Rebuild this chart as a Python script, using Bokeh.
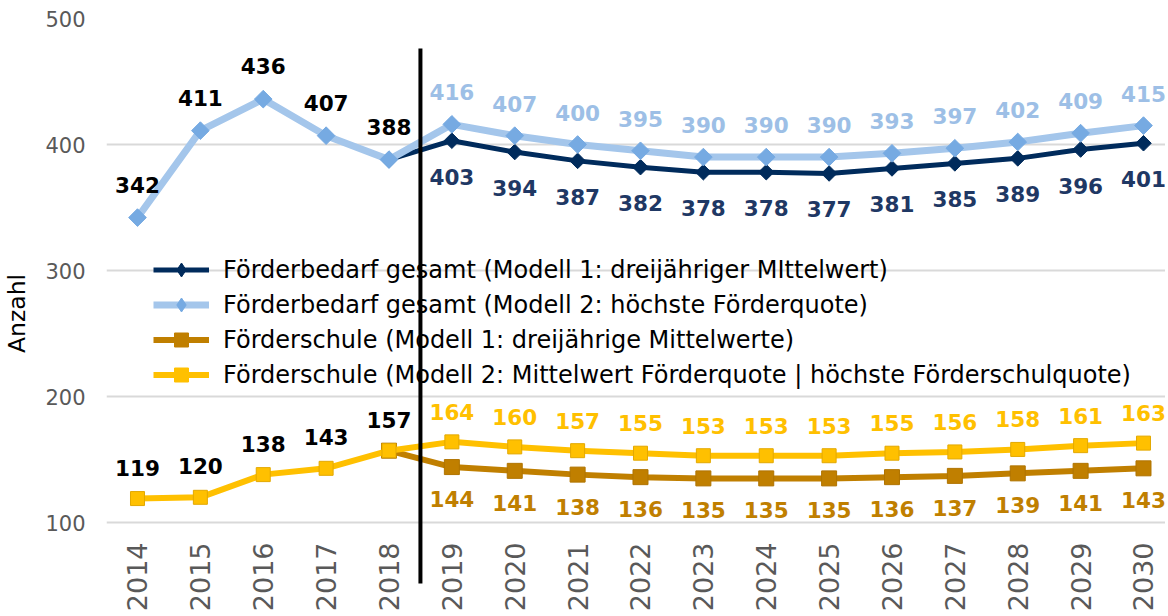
import math
from bokeh.plotting import figure
from bokeh.models import ColumnDataSource, Range1d, FixedTicker, Legend, LegendItem
from bokeh.core.properties import value
from bokeh.embed import file_html
from bokeh.resources import INLINE

# ---------------- data ----------------
years_all = [2014, 2015, 2016, 2017, 2018, 2019, 2020, 2021, 2022, 2023, 2024,
             2025, 2026, 2027, 2028, 2029, 2030]
years_hist = [2014, 2015, 2016, 2017, 2018]
years_m1 = [2018, 2019, 2020, 2021, 2022, 2023, 2024, 2025, 2026, 2027, 2028, 2029, 2030]
years_proj = [2019, 2020, 2021, 2022, 2023, 2024, 2025, 2026, 2027, 2028, 2029, 2030]

gesamt_hist = [342, 411, 436, 407, 388]
gesamt_m1 = [403, 394, 387, 382, 378, 378, 377, 381, 385, 389, 396, 401]
gesamt_m2 = [416, 407, 400, 395, 390, 390, 390, 393, 397, 402, 409, 415]

schule_hist = [119, 120, 138, 143, 157]
schule_m1 = [144, 141, 138, 136, 135, 135, 135, 136, 137, 139, 141, 143]
schule_m2 = [164, 160, 157, 155, 153, 153, 153, 155, 156, 158, 161, 163]

y_ticks = [100, 200, 300, 400, 500]
legend_labels = [
    "Förderbedarf gesamt (Modell 1: dreijähriger MIttelwert)",
    "Förderbedarf gesamt (Modell 2: höchste Förderquote)",
    "Förderschule (Modell 1: dreijährige Mittelwerte)",
    "Förderschule (Modell 2: Mittelwert Förderquote | höchste Förderschulquote)",
]
y_axis_title = "Anzahl"
split_year = 2018.5
divider_bottom = 51.6
divider_top = 476.2

# ---------------- styles ----------------
FONT = "DejaVu Sans"
NAVY = "#002b5c"
NAVY_TXT = "#1f3864"
LBLUE_LINE = "#a4c6eb"
LBLUE_MARK = "#76aae2"
LBLUE_TXT = "#9dbfe6"
BROWN = "#c07f00"
YELLOW = "#ffc000"
YELLOW_EDGE = "#e3a800"

p = figure(frame_width=1059, frame_height=590,
           x_range=Range1d(2013.507, 2030.35), y_range=Range1d(31.75, 500),
           output_backend="svg", toolbar_location=None,
           min_border_left=101, min_border_right=0, min_border_top=18, min_border_bottom=0)
p.outline_line_color = None
p.background_fill_color = "white"
p.border_fill_color = "white"

p.xgrid.visible = False
p.ygrid.grid_line_color = "#d9d9d9"
p.ygrid.grid_line_width = 2
p.yaxis.ticker = FixedTicker(ticks=y_ticks)
p.xaxis.ticker = FixedTicker(ticks=years_all)

for ax in (p.xaxis, p.yaxis):
    ax.axis_line_color = None
    ax.major_tick_line_color = None
    ax.minor_tick_line_color = None
    ax.major_tick_out = 0
    ax.major_tick_in = 0
    ax.major_label_text_font = FONT
    ax.major_label_text_color = "#595959"

p.yaxis.major_label_text_font_size = "21px"
p.yaxis.major_label_standoff = 21
p.yaxis.axis_label = y_axis_title
p.yaxis.axis_label_text_font = FONT
p.yaxis.axis_label_text_font_size = "23.5px"
p.yaxis.axis_label_text_font_style = "normal"
p.yaxis.axis_label_text_color = "black"
p.yaxis.axis_label_standoff = 11

p.xaxis.major_label_text_font_size = "27px"
p.xaxis.major_label_orientation = math.pi / 2
p.xaxis.major_label_standoff = -66

# ---------------- series ----------------
nav_x = years_m1
nav_y = [gesamt_hist[-1]] + gesamt_m1
lb_x = years_all
lb_y = gesamt_hist + gesamt_m2
br_x = years_m1
br_y = [schule_hist[-1]] + schule_m1
ye_x = years_all
ye_y = schule_hist + schule_m2

p.line(nav_x, nav_y, line_color=NAVY, line_width=5)
p.scatter(nav_x, nav_y, marker="square", angle=math.pi / 4, size=11,
          fill_color=NAVY, line_color=NAVY)
p.line(lb_x, lb_y, line_color=LBLUE_LINE, line_width=7)
p.scatter(lb_x, lb_y, marker="square", angle=math.pi / 4, size=12.5,
          fill_color=LBLUE_MARK, line_color=LBLUE_MARK)

p.line(br_x, br_y, line_color=BROWN, line_width=6)
p.scatter(br_x, br_y, marker="square", size=15, fill_color=BROWN, line_color="#b07400")
p.line(ye_x, ye_y, line_color=YELLOW, line_width=6)
p.scatter(ye_x, ye_y, marker="square", size=14, fill_color=YELLOW, line_color=YELLOW_EDGE)

# ---------------- data labels ----------------
def labels(xs, ys, color, dy):
    src = ColumnDataSource(dict(x=xs, y=ys, t=[str(v) for v in ys]))
    p.text("x", "y", text="t", source=src, y_offset=dy,
           text_align="center", text_baseline="middle",
           text_font=value(FONT), text_font_style="bold",
           text_font_size="21.5px", text_color=color)

labels(years_hist, gesamt_hist, "black", -33)
labels(years_proj, gesamt_m2, LBLUE_TXT, -32)
labels(years_proj, gesamt_m1, NAVY_TXT, 36)
labels(years_hist, schule_hist, "black", -31)
labels(years_proj, schule_m2, YELLOW, -30)
labels(years_proj, schule_m1, BROWN, 32)

# ---------------- vertical divider ----------------
p.segment(x0=[split_year], y0=[divider_bottom], x1=[split_year], y1=[divider_top],
          line_color="black", line_width=4)

# ---------------- legend (legend-only glyphs, not visible in plot) ----------------
NAN = float("nan")

def leg(color, lw, marker, msize, mfill, mline):
    r1 = p.line(x=[NAN, NAN], y=[NAN, NAN], line_color=color, line_width=lw)
    r2 = p.scatter(x=[NAN], y=[NAN], marker=marker, size=msize, fill_color=mfill, line_color=mline)
    return [r1, r2]

legend = Legend(items=[
    LegendItem(label=legend_labels[0], renderers=leg(NAVY, 5, "diamond", 15, NAVY, NAVY), index=0),
    LegendItem(label=legend_labels[1], renderers=leg(LBLUE_LINE, 7, "diamond", 17, LBLUE_MARK, LBLUE_MARK), index=0),
    LegendItem(label=legend_labels[2], renderers=leg(BROWN, 6, "square", 12, BROWN, BROWN), index=0),
    LegendItem(label=legend_labels[3], renderers=leg(YELLOW, 6, "square", 11, YELLOW, YELLOW), index=0),
], location=(47, 216), orientation="vertical",
    glyph_width=56, glyph_height=35, label_height=35, label_standoff=14,
    spacing=0, padding=0, margin=0,
    border_line_color=None, background_fill_alpha=0,
    label_text_font=FONT, label_text_font_size="24px", label_text_color="black")
p.add_layout(legend)

open("out.html", "w").write(file_html(p, INLINE))
